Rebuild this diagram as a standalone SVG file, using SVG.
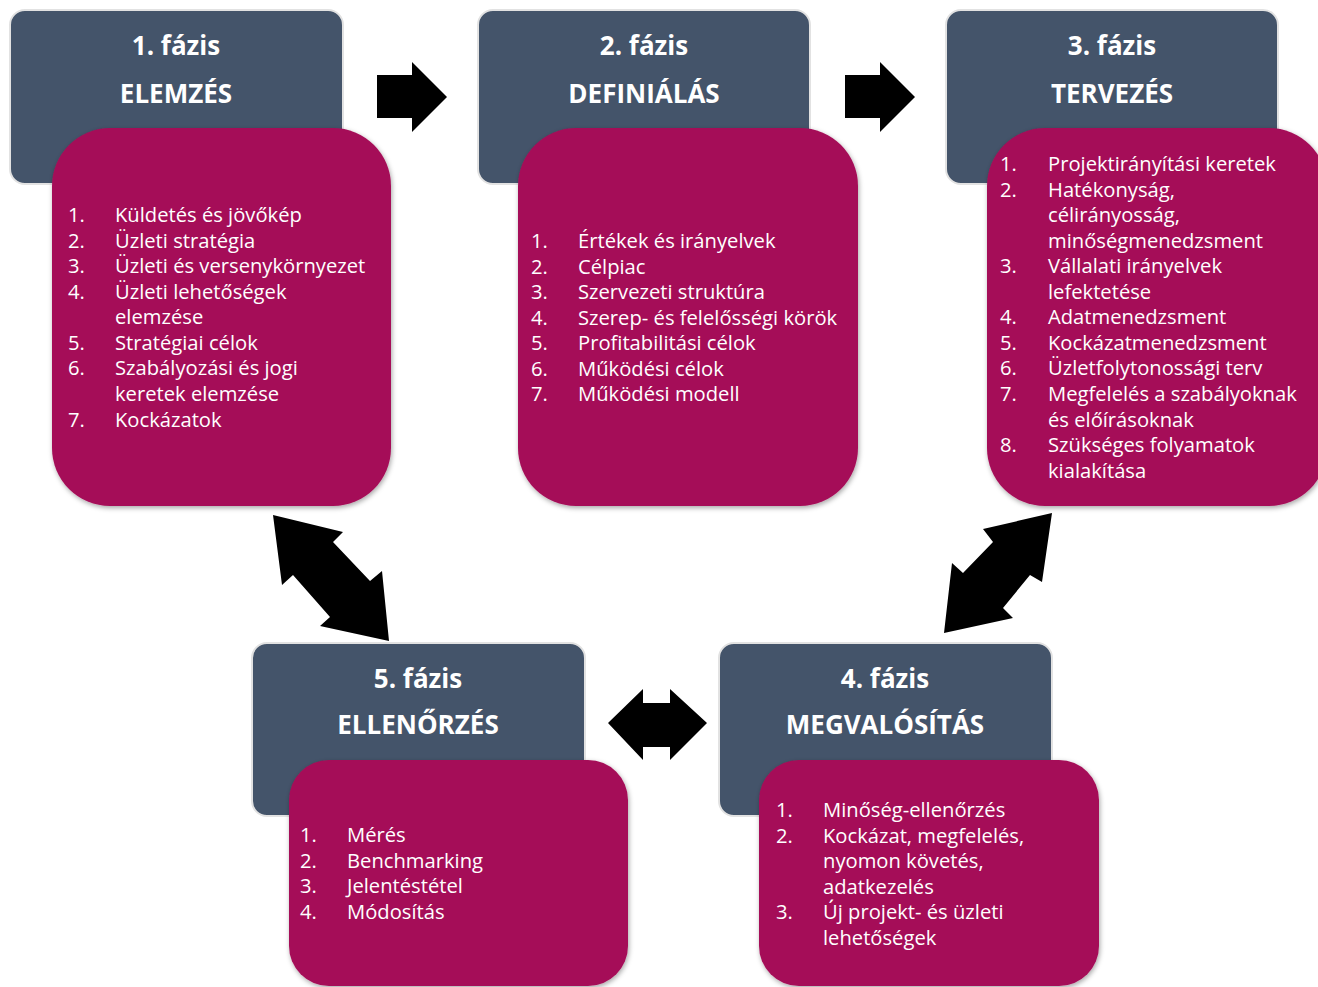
<svg xmlns="http://www.w3.org/2000/svg" width="1318" height="987" viewBox="0 0 1318 987">
<defs>
<filter id="sh" x="-10%" y="-10%" width="130%" height="130%">
<feDropShadow dx="1" dy="2" stdDeviation="2.5" flood-color="#000" flood-opacity="0.35"/>
</filter>
</defs>
<style>
.hd{fill:#44546A;stroke:#E2E2E2;stroke-width:2}
.bd{fill:#A50F58;filter:url(#sh)}
.ht{font-family:"Open Sans","Noto Sans",sans-serif;font-weight:bold;font-size:26px;fill:#fff;text-anchor:middle}
.lt{font-family:"Open Sans","Noto Sans",sans-serif;font-size:20.2px;fill:#fff}
.ar{fill:#000}
</style>
<rect width="1318" height="987" fill="#fff"/>

<g id="phase1">
<rect class="hd" x="10" y="10" width="333" height="174" rx="15"/>
<text class="ht" x="176" y="55">1. fázis</text>
<text class="ht" x="176" y="103">ELEMZÉS</text>
<rect class="bd" x="52" y="128" width="339" height="378" rx="58"/>
<g class="lt">
<text x="68" y="222">1.</text><text x="115" y="222">Küldetés és jövőkép</text>
<text x="68" y="248">2.</text><text x="115" y="248">Üzleti stratégia</text>
<text x="68" y="273">3.</text><text x="115" y="273">Üzleti és versenykörnyezet</text>
<text x="68" y="299">4.</text><text x="115" y="299">Üzleti lehetőségek</text>
<text x="115" y="324">elemzése</text>
<text x="68" y="350">5.</text><text x="115" y="350">Stratégiai célok</text>
<text x="68" y="375">6.</text><text x="115" y="375">Szabályozási és jogi</text>
<text x="115" y="401">keretek elemzése</text>
<text x="68" y="427">7.</text><text x="115" y="427">Kockázatok</text>
</g>
</g>

<g id="phase2">
<rect class="hd" x="478" y="10" width="332" height="174" rx="15"/>
<text class="ht" x="644" y="55">2. fázis</text>
<text class="ht" x="644" y="103">DEFINIÁLÁS</text>
<rect class="bd" x="518" y="128" width="340" height="378" rx="58"/>
<g class="lt">
<text x="531" y="248">1.</text><text x="578" y="248">Értékek és irányelvek</text>
<text x="531" y="274">2.</text><text x="578" y="274">Célpiac</text>
<text x="531" y="299">3.</text><text x="578" y="299">Szervezeti struktúra</text>
<text x="531" y="325">4.</text><text x="578" y="325">Szerep- és felelősségi körök</text>
<text x="531" y="350">5.</text><text x="578" y="350">Profitabilitási célok</text>
<text x="531" y="376">6.</text><text x="578" y="376">Működési célok</text>
<text x="531" y="401">7.</text><text x="578" y="401">Működési modell</text>
</g>
</g>

<g id="phase3">
<rect class="hd" x="946" y="10" width="332" height="174" rx="15"/>
<text class="ht" x="1112" y="55">3. fázis</text>
<text class="ht" x="1112" y="103">TERVEZÉS</text>
<rect class="bd" x="987" y="128" width="340" height="378" rx="58"/>
<g class="lt">
<text x="1000" y="171">1.</text><text x="1048" y="171">Projektirányítási keretek</text>
<text x="1000" y="197">2.</text><text x="1048" y="197">Hatékonyság,</text>
<text x="1048" y="222">célirányosság,</text>
<text x="1048" y="248">minőségmenedzsment</text>
<text x="1000" y="273">3.</text><text x="1048" y="273">Vállalati irányelvek</text>
<text x="1048" y="299">lefektetése</text>
<text x="1000" y="324">4.</text><text x="1048" y="324">Adatmenedzsment</text>
<text x="1000" y="350">5.</text><text x="1048" y="350">Kockázatmenedzsment</text>
<text x="1000" y="375">6.</text><text x="1048" y="375">Üzletfolytonossági terv</text>
<text x="1000" y="401">7.</text><text x="1048" y="401">Megfelelés a szabályoknak</text>
<text x="1048" y="427">és előírásoknak</text>
<text x="1000" y="452">8.</text><text x="1048" y="452">Szükséges folyamatok</text>
<text x="1048" y="478">kialakítása</text>
</g>
</g>

<g id="phase5">
<rect class="hd" x="252" y="643" width="333" height="173" rx="15"/>
<text class="ht" x="418" y="688">5. fázis</text>
<text class="ht" x="418" y="734">ELLENŐRZÉS</text>
<rect class="bd" x="289" y="760" width="339" height="226" rx="40"/>
<g class="lt">
<text x="300" y="842">1.</text><text x="347" y="842">Mérés</text>
<text x="300" y="868">2.</text><text x="347" y="868">Benchmarking</text>
<text x="300" y="893">3.</text><text x="347" y="893">Jelentéstétel</text>
<text x="300" y="919">4.</text><text x="347" y="919">Módosítás</text>
</g>
</g>

<g id="phase4">
<rect class="hd" x="719" y="643" width="333" height="173" rx="15"/>
<text class="ht" x="885" y="688">4. fázis</text>
<text class="ht" x="885" y="734">MEGVALÓSÍTÁS</text>
<rect class="bd" x="759" y="760" width="340" height="226" rx="40"/>
<g class="lt">
<text x="776" y="817">1.</text><text x="823" y="817">Minőség-ellenőrzés</text>
<text x="776" y="843">2.</text><text x="823" y="843">Kockázat, megfelelés,</text>
<text x="823" y="868">nyomon követés,</text>
<text x="823" y="894">adatkezelés</text>
<text x="776" y="919">3.</text><text x="823" y="919">Új projekt- és üzleti</text>
<text x="823" y="945">lehetőségek</text>
</g>
</g>

<g id="connectors">
<polygon class="ar" points="377,75 412,75 412,62 447,97 412,132 412,118 377,118"/>
<polygon class="ar" points="845,75 880,75 880,62 915,97 880,132 880,118 845,118"/>
<polygon class="ar" points="273,515 343,532 333,542 370,581 382,571 389,641 320,626 330,617 293,575 282,585"/>
<polygon class="ar" points="1052,513 983,529 993,542 963,573 952,563 944,633 1013,618 1003,608 1030,575 1042,582"/>
<polygon class="ar" points="608,723 643,689 643,703 670,703 670,689 707,723 670,760 670,747 643,747 643,760"/>
</g>
</svg>
